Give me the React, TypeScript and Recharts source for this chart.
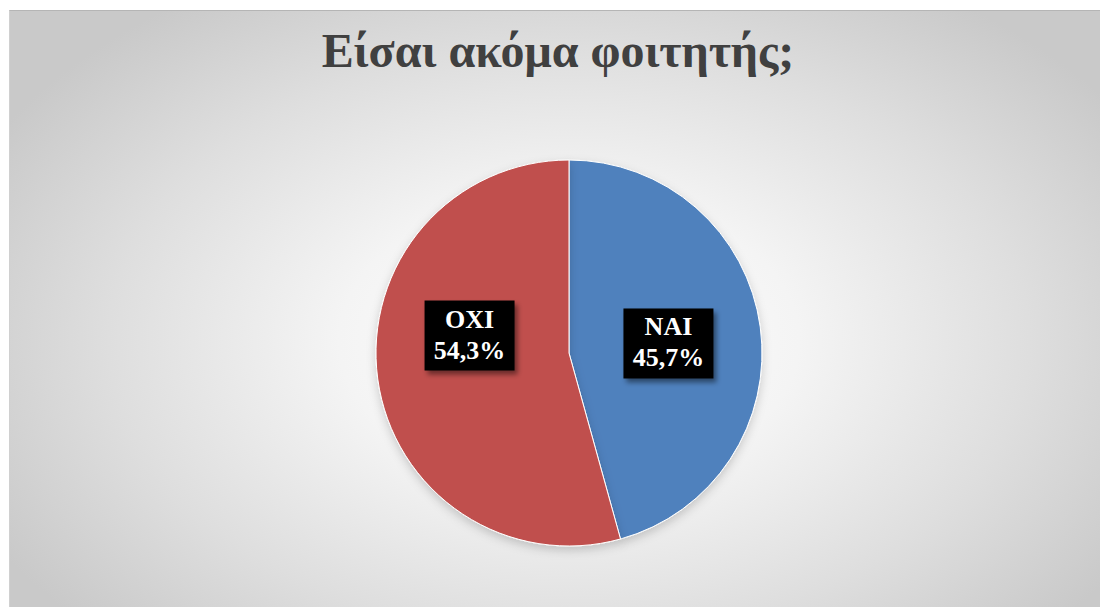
import React from 'react';
import { PieChart, Pie, Cell } from 'recharts';

const categories = ['NAI', 'OXI'];
const shares = [45.7, 54.3];
const colors = ['#4F81BD', '#C0504D'];
const title = 'Είσαι ακόμα φοιτητής;';

const data = categories.map((name, i) => ({ name, value: shares[i] }));

// small vertical nudges so the boxes sit where Excel put them
const labelNudge = [4, -31];
const RAD = Math.PI / 180;

const renderLabel = (props: any) => {
  const { cx, cy, midAngle, outerRadius, index, name, value } = props;
  const r = outerRadius * 0.52;
  const x = cx + r * Math.cos(-midAngle * RAD);
  const y = cy + r * Math.sin(-midAngle * RAD) + labelNudge[index];
  const pct = value.toFixed(1).replace('.', ',') + '%';
  return (
    <g>
      <rect x={x - 45} y={y - 35} width={90} height={70} fill="#000" filter="url(#boxShadow)" />
      <text x={x} y={y - 8} textAnchor="middle" fill="#fff" fontFamily="'Liberation Serif', serif" fontWeight="bold" fontSize={26}>
        {name}
      </text>
      <text x={x} y={y + 23} textAnchor="middle" fill="#fff" fontFamily="'Liberation Serif', serif" fontWeight="bold" fontSize={26}>
        {pct}
      </text>
    </g>
  );
};

const App: React.FC = () => {
  return (
    <div
      style={{
        position: 'relative',
        width: 1097,
        height: 600,
        margin: '2px 0 0 1px',
        borderTop: '1px solid #b5b5b5',
        borderLeft: '1px solid #d0d0d0',
        boxSizing: 'border-box',
        background: 'radial-gradient(ellipse 60% 70% at 51% 55%, #ffffff 0%, #f4f4f4 35%, #dedede 70%, #c9c9c9 100%)',
      }}
    >
      <div
        style={{
          position: 'absolute',
          top: 12,
          left: 0,
          width: '100%',
          textAlign: 'center',
          fontFamily: "'Liberation Serif', serif",
          fontWeight: 'bold',
          fontSize: 48,
          color: '#404040',
        }}
      >
        {title}
      </div>
      <PieChart width={1096} height={598} style={{ position: 'absolute', top: 0, left: 0 }}>
        <defs>
          <filter id="boxShadow" x="-20%" y="-20%" width="150%" height="150%">
            <feDropShadow dx={3} dy={4} stdDeviation={2.5} floodColor="#000" floodOpacity={0.45} />
          </filter>
          <filter id="pieShadow" x="-20%" y="-20%" width="140%" height="140%">
            <feDropShadow dx={0} dy={4} stdDeviation={5} floodColor="#000" floodOpacity={0.18} />
          </filter>
        </defs>
        <Pie
          data={data}
          dataKey="value"
          nameKey="name"
          cx={554}
          cy={337}
          outerRadius={193}
          startAngle={90}
          endAngle={-270}
          stroke="#ffffff"
          strokeWidth={1}
          label={renderLabel}
          labelLine={false}
          isAnimationActive={false}
        >
          {data.map((d, i) => (
            <Cell key={d.name} fill={colors[i]} filter="url(#pieShadow)" />
          ))}
        </Pie>
      </PieChart>
    </div>
  );
};

export default App;
